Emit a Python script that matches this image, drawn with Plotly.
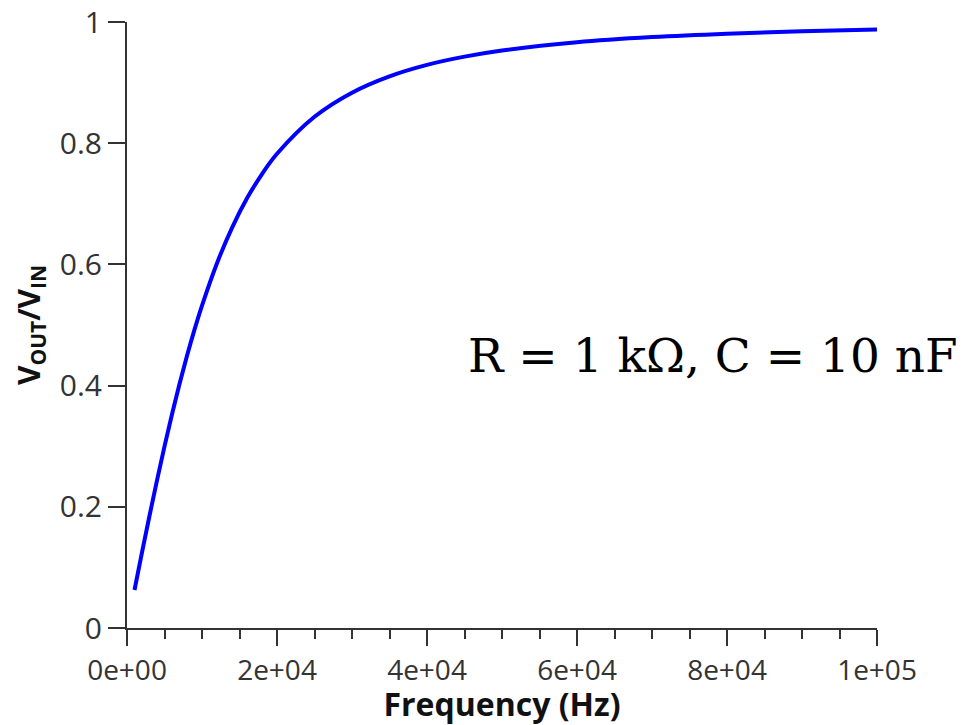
import plotly.graph_objects as go

freq_hz = [1000, 2000, 3000, 4000, 5000, 6000, 7000, 8000, 9000, 10000,
           12000, 14000, 16000, 18000, 20000, 25000, 30000, 35000, 40000,
           45000, 50000, 60000, 70000, 80000, 90000, 100000]
gain = [0.0627, 0.1247, 0.1852, 0.2437, 0.2997, 0.3528, 0.4026, 0.4491, 0.4923, 0.5320,
        0.6020, 0.6604, 0.7090, 0.7491, 0.7825, 0.8436, 0.8834, 0.9103, 0.9292,
        0.9428, 0.9529, 0.9666, 0.9751, 0.9808, 0.9847, 0.9876]

x_tickvals = [0, 20000, 40000, 60000, 80000, 100000]
x_ticktext = ["0e+00", "2e+04", "4e+04", "6e+04", "8e+04", "1e+05"]
y_tickvals = [0, 0.2, 0.4, 0.6, 0.8, 1]
y_ticktext = ["0", "0.2", "0.4", "0.6", "0.8", "1"]

fig = go.Figure()
fig.add_trace(go.Scatter(x=freq_hz, y=gain, mode="lines",
                         line=dict(color="#0000FF", width=4, shape="spline"),
                         cliponaxis=False, showlegend=False))

axis_color = "#333333"
fig.update_layout(
    width=964, height=717,
    margin=dict(l=119, r=95, t=14, b=97, autoexpand=False),
    paper_bgcolor="white", plot_bgcolor="white",
    font=dict(family="Open Sans", color=axis_color),
    xaxis=dict(range=[0, 100000], tickvals=x_tickvals, ticktext=x_ticktext, automargin=False,
               ticklabeloverflow="allow",
               showgrid=False, zeroline=False, showline=True, linecolor=axis_color, linewidth=2,
               ticks="outside", ticklen=16, tickwidth=2, tickcolor=axis_color,
               tickfont=dict(size=28, color="#333333"),
               minor=dict(tickvals=[5000, 10000, 15000, 25000, 30000, 35000, 45000, 50000, 55000,
                                    65000, 70000, 75000, 85000, 90000, 95000],
                          ticks="outside", ticklen=9, tickwidth=2, tickcolor=axis_color),
               title=dict(text="<b>Frequency (Hz)</b>", font=dict(size=32, color="#111111"), standoff=2)),
    yaxis=dict(range=[0, 1], tickvals=y_tickvals, ticktext=y_ticktext, automargin=False,
               ticklabeloverflow="allow",
               showgrid=False, zeroline=False, showline=True, linecolor=axis_color, linewidth=2,
               ticks="outside", ticklen=17, tickwidth=2, tickcolor=axis_color,
               tickfont=dict(size=30, color="#333333"),
               title=dict(text="<b>V<sub>OUT</sub>/V<sub>IN</sub></b>", font=dict(size=30, color="#111111"), standoff=12)),
    annotations=[dict(text="R = 1 kΩ, C = 10 nF", x=(960 - 127) / 750.0, y=0.45,
                      xref="paper", yref="paper",
                      xanchor="right", yanchor="middle", showarrow=False,
                      font=dict(family="DejaVu Serif", size=47, color="black"))],
)

fig.write_html("out.html")
